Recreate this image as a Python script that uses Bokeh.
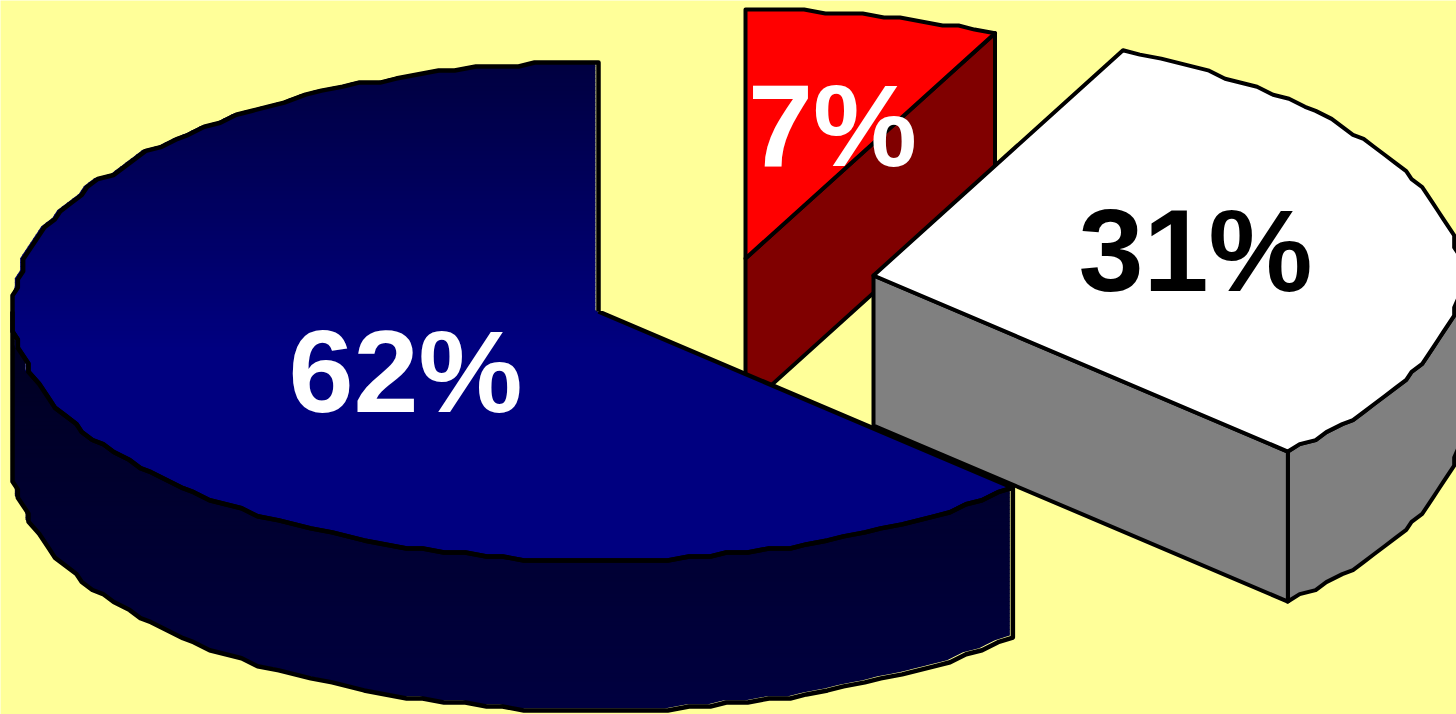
import numpy as np
from bokeh.embed import file_html
from bokeh.models import Range1d
from bokeh.plotting import figure
from bokeh.resources import INLINE
from bokeh.core.properties import value

# data
names = ["A", "B", "C"]
shares = [62.5, 30.5, 7.0]
labels = ["62%", "31%", "7%"]
tops = ["#000080", "#FFFFFF", "#FF0000"]
sides = ["#000040", "#808080", "#800000"]
label_colors = ["#FFFFFF", "#000000", "#FFFFFF"]

# layout of the exploded pie (pixels of the page)
W, H = 1456, 714
BG = "#FFFF99"
RX, RY, DEPTH = 586, 249, 150
GX, GY = RX / 110, RY / 62         # coarse device grid of the original drawing
STEP_DEG = 2.0
centers = {"A": (598, 311), "B": (873, 275), "C": (745, 258)}
label_pos = {"A": (405, 371), "B": (1195, 250), "C": (832, 125)}
FS = "117px"
LW = 4.5

p = figure(width=W, height=H, output_backend="svg", toolbar_location=None,
           x_range=Range1d(0, W), y_range=Range1d(H, 0),
           background_fill_color=BG, border_fill_color=BG, min_border=0,
           outline_line_color=None,
           styles={"position": "absolute", "left": "0", "top": "0"})
p.axis.visible = False
p.grid.visible = False

# sweep: first slice runs counter-clockwise from 12 o'clock
spans = {}
a = 90.0
for n, s in zip(names, shares):
    spans[n] = (a, a + s * 3.6)
    a += s * 3.6


def arc(n):
    a0, a1 = spans[n]
    k = max(2, int(round((a1 - a0) / STEP_DEG)) + 1)
    deg = np.linspace(a0, a1, k)
    extra = [d for d in (180.0, 360.0, 540.0) if a0 < d < a1]
    deg = np.union1d(deg, extra)
    t = np.radians(deg)
    cx, cy = centers[n]
    x = RX * np.cos(t)
    y = -RY * np.sin(t)
    sx, sy = np.round(x / GX) * GX, np.round(y / GY) * GY
    sx[[0, -1]], sy[[0, -1]] = x[[0, -1]], y[[0, -1]]
    return deg, cx + sx, cy + sy


def visible_wall(deg):
    return np.sin(np.radians(deg)) <= 1e-9


def face_visible(n, which):
    a0, a1 = spans[n]
    normal = a0 - 90 if which == 0 else a1 + 90
    return np.sin(np.radians(normal)) < -1e-9


def clip(poly, y0, y1):
    def half(pts, inside, ylim):
        out = []
        for i, q in enumerate(pts):
            r = pts[i - 1]
            qi, ri = inside(q[1]), inside(r[1])
            if qi != ri:
                f = (ylim - r[1]) / (q[1] - r[1])
                out.append((r[0] + f * (q[0] - r[0]), ylim))
            if qi:
                out.append(q)
        return out
    pts = half(poly, lambda v: v >= y0, y0)
    if pts:
        pts = half(pts, lambda v: v <= y1, y1)
    return pts


def gradient_fill(xs, ys, y_start, y_end, v_start, v_end, dx=0, dy=0, xmin=None, ymin=None):
    """Vertical navy gradient across a polygon, drawn as thin bands."""
    x = np.asarray(xs, float) + dx
    y = np.asarray(ys, float) + dy
    if xmin is not None:
        x = np.maximum(x, xmin)
    if ymin is not None:
        y = np.maximum(y, ymin)
    poly = list(zip(x, y))
    bx, by, bc = [], [], []
    for b in np.arange(y.min(), y.max(), 4.0):
        part = clip(poly, b, b + 4.6)
        if len(part) < 3:
            continue
        f = np.clip((b - y_start) / (y_end - y_start), 0, 1)
        v = int(round(v_start + f * (v_end - v_start)))
        bx.append([q[0] for q in part])
        by.append([q[1] for q in part])
        bc.append(f"#0000{v:02X}")
    p.patches(bx, by, fill_color=bc, line_color=None)


def draw_plain(i):
    n = names[i]
    cx, cy = centers[n]
    deg, ax, ay = arc(n)
    vis = visible_wall(deg)
    if vis.any():
        wx, wy = ax[vis], ay[vis]
        p.patch(np.r_[wx, wx[::-1]], np.r_[wy, wy[::-1] + DEPTH],
                fill_color=sides[i], line_color="black", line_width=LW - 0.5, line_join="round")
    for which, k in ((0, 0), (1, -1)):
        if face_visible(n, which):
            ex, ey = ax[k], ay[k]
            p.patch([cx, ex, ex, cx], [cy, ey, ey + DEPTH, cy + DEPTH],
                    fill_color=sides[i], line_color="black", line_width=LW - 0.5, line_join="round")
    p.patch(np.r_[cx, ax], np.r_[cy, ay], fill_color=tops[i],
            line_color="black", line_width=LW - 0.5, line_join="round")


def draw_navy(i):
    n = names[i]
    cx, cy = centers[n]
    deg, ax, ay = arc(n)
    vis = visible_wall(deg)
    wx, wy = ax[vis], ay[vis]
    wall_x, wall_y = np.r_[wx, wx[::-1]], np.r_[wy, wy[::-1] + DEPTH]
    top_x, top_y = np.r_[cx, ax], np.r_[cy, ay]
    left, upper = cx - RX, cy - RY
    gradient_fill(wall_x, wall_y, cy, cy + RY + DEPTH, 0x20, 0x40, dx=-3, dy=-2, xmin=left)
    gradient_fill(top_x, top_y, upper, cy + 35, 0x40, 0x80, dx=-3, dy=-1, xmin=left, ymin=upper)
    # black outlines on top, leaving a sliver of background on the lit side
    p.line(np.r_[wall_x, wall_x[0]], np.r_[wall_y, wall_y[0]], line_color="black", line_width=LW, line_join="round")
    p.line(np.r_[top_x, top_x[0]], np.r_[top_y, top_y[0]], line_color="black", line_width=LW, line_join="round")


# back to front
draw_plain(2)
draw_plain(1)
draw_navy(0)

for i, n in enumerate(names):
    x, y = label_pos[n]
    p.text([x], [y], text=[labels[i]], text_color=label_colors[i],
           text_font=value("Liberation Sans"), text_font_style="bold",
           text_font_size=FS, text_align="center", text_baseline="middle")

open("out.html", "w").write(file_html(p, INLINE))
